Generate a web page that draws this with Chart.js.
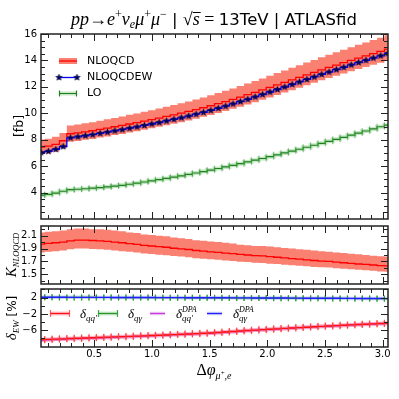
<!DOCTYPE html>
<html>
<head>
<meta charset="utf-8">
<script src="https://cdn.jsdelivr.net/npm/chart.js@4.4.0/dist/chart.umd.min.js"></script>
<style>
  html, body { margin: 0; padding: 0; background: #fff; }
  #wrap { position: relative; width: 399px; height: 399px; }
  #wrap canvas { position: absolute; left: 0; top: 0; }
</style>
</head>
<body>
<div id="wrap">
  <canvas id="top" width="399" height="399"></canvas>
  <canvas id="mid" width="399" height="399"></canvas>
  <canvas id="bot" width="399" height="399"></canvas>
</div>
<script>
// bin centres in delta phi
const phi = [0.039,0.103,0.167,0.231,0.295,0.359,0.423,0.487,0.551,0.615,0.679,0.743,0.807,0.871,0.935,0.999,1.063,1.127,1.191,1.255,1.319,1.383,1.447,1.511,1.575,1.639,1.703,1.767,1.831,1.895,1.959,2.023,2.087,2.151,2.215,2.279,2.343,2.407,2.471,2.535,2.599,2.663,2.727,2.791,2.855,2.919,2.983,3.047];
const halfBin = 0.032;

// cross sections [fb]
const nloqcd = [7.45,7.52,7.65,7.92,8.45,8.52,8.60,8.68,8.78,8.88,8.98,9.08,9.19,9.30,9.41,9.52,9.64,9.76,9.88,10.01,10.14,10.28,10.42,10.57,10.73,10.89,11.06,11.23,11.41,11.59,11.77,11.96,12.15,12.34,12.53,12.72,12.91,13.10,13.29,13.47,13.65,13.83,14.01,14.18,14.35,14.52,14.69,14.86];
const nloqcdHi = [8.01,8.08,8.22,8.51,9.08,9.16,9.24,9.33,9.44,9.54,9.65,9.76,9.88,9.99,10.11,10.23,10.36,10.49,10.62,10.76,10.90,11.05,11.20,11.36,11.53,11.70,11.88,12.06,12.26,12.45,12.64,12.84,13.04,13.24,13.44,13.64,13.84,14.04,14.24,14.43,14.62,14.81,15.00,15.18,15.36,15.54,15.72,15.90];
const nloqcdLo = [6.91,6.98,7.10,7.35,7.85,7.91,7.99,8.06,8.16,8.25,8.35,8.44,8.55,8.65,8.76,8.86,8.98,9.09,9.21,9.33,9.46,9.59,9.73,9.87,10.02,10.17,10.34,10.50,10.67,10.84,11.02,11.20,11.38,11.57,11.75,11.94,12.12,12.31,12.50,12.67,12.84,13.02,13.19,13.35,13.51,13.67,13.83,13.98];
const nloqcdew = [7.03,7.12,7.27,7.48,8.14,8.22,8.30,8.38,8.48,8.57,8.67,8.76,8.87,8.97,9.08,9.19,9.30,9.42,9.54,9.66,9.79,9.93,10.07,10.22,10.38,10.54,10.71,10.88,11.06,11.24,11.42,11.61,11.80,11.99,12.18,12.37,12.56,12.75,12.94,13.12,13.30,13.48,13.66,13.84,14.01,14.18,14.35,14.53];
const lo = [3.80,3.86,3.96,4.10,4.22,4.25,4.29,4.33,4.38,4.43,4.49,4.55,4.63,4.71,4.80,4.89,4.98,5.07,5.17,5.27,5.37,5.48,5.59,5.70,5.82,5.94,6.06,6.19,6.32,6.45,6.58,6.72,6.86,7.00,7.14,7.28,7.43,7.58,7.73,7.88,8.03,8.18,8.34,8.50,8.66,8.82,8.98,9.10];

// K factor NLOQCD/LO
const kfac = [1.97,1.98,1.99,2.00,2.02,2.03,2.03,2.025,2.02,2.01,2.00,1.99,1.975,1.965,1.95,1.94,1.93,1.92,1.905,1.895,1.885,1.87,1.86,1.85,1.84,1.83,1.82,1.81,1.80,1.79,1.785,1.775,1.765,1.755,1.745,1.735,1.725,1.715,1.705,1.70,1.69,1.68,1.67,1.66,1.655,1.645,1.635,1.63];
const kHi = [2.15,2.16,2.17,2.18,2.20,2.21,2.21,2.20,2.20,2.19,2.18,2.17,2.15,2.14,2.12,2.11,2.10,2.09,2.07,2.06,2.05,2.03,2.02,2.01,2.00,1.99,1.98,1.96,1.95,1.94,1.94,1.93,1.92,1.91,1.90,1.89,1.88,1.87,1.86,1.85,1.84,1.83,1.82,1.81,1.80,1.79,1.78,1.775];
const kLo = [1.84,1.85,1.86,1.87,1.89,1.90,1.90,1.895,1.89,1.88,1.87,1.86,1.85,1.84,1.825,1.815,1.805,1.795,1.785,1.775,1.765,1.75,1.74,1.735,1.725,1.715,1.705,1.695,1.69,1.68,1.675,1.665,1.66,1.65,1.64,1.635,1.625,1.615,1.61,1.605,1.595,1.585,1.58,1.57,1.565,1.555,1.545,1.54];

// EW corrections [%]
const dQQ = [-8.30,-8.24,-8.17,-8.10,-8.03,-7.96,-7.89,-7.82,-7.76,-7.69,-7.63,-7.56,-7.50,-7.43,-7.37,-7.30,-7.22,-7.15,-7.07,-6.99,-6.91,-6.83,-6.75,-6.66,-6.54,-6.42,-6.30,-6.19,-6.07,-5.96,-5.85,-5.76,-5.66,-5.55,-5.45,-5.35,-5.25,-5.15,-5.05,-4.96,-4.87,-4.78,-4.69,-4.60,-4.52,-4.44,-4.36,-4.28];
const dQA = [2.05,2.05,2.05,2.04,2.04,2.04,2.03,2.03,2.02,2.02,2.01,2.01,2.00,2.00,1.99,1.99,1.98,1.97,1.97,1.96,1.95,1.95,1.94,1.93,1.93,1.92,1.91,1.90,1.90,1.89,1.88,1.87,1.86,1.86,1.85,1.84,1.83,1.82,1.81,1.80,1.80,1.79,1.78,1.77,1.76,1.75,1.74,1.73];
const dQQdpa = [-8.42,-8.35,-8.28,-8.21,-8.14,-8.07,-8.00,-7.93,-7.86,-7.79,-7.72,-7.65,-7.58,-7.51,-7.44,-7.37,-7.29,-7.21,-7.13,-7.05,-6.97,-6.89,-6.80,-6.71,-6.60,-6.48,-6.36,-6.24,-6.12,-6.01,-5.90,-5.80,-5.70,-5.59,-5.49,-5.39,-5.29,-5.19,-5.09,-5.00,-4.91,-4.82,-4.73,-4.64,-4.56,-4.48,-4.40,-4.32];
const dQAdpa = [2.08,2.08,2.07,2.07,2.06,2.06,2.05,2.05,2.04,2.04,2.03,2.03,2.02,2.02,2.01,2.01,2.00,1.99,1.99,1.98,1.97,1.97,1.96,1.95,1.95,1.94,1.93,1.92,1.92,1.91,1.90,1.89,1.88,1.88,1.87,1.86,1.85,1.84,1.83,1.82,1.82,1.81,1.80,1.79,1.78,1.77,1.76,1.75];

// ticks
const xTicks = [0.5, 1.0, 1.5, 2.0, 2.5, 3.0];
const topTicks = [4, 6, 8, 10, 12, 14, 16];
const kTicks = [1.5, 1.7, 1.9, 2.1];
const ewTicks = [-6, -2, 2];

const X_MIN = 0.039, X_MAX = 3.046;

const xMinor = [];
for (let v = 0.1; v < 3.05; v += 0.1) xMinor.push(+v.toFixed(1));
const topMinor = [];
for (let v = 2; v <= 16; v += 0.5) if (!topTicks.includes(v)) topMinor.push(v);
const kMinor = [1.4, 1.6, 1.8, 2.0, 2.2];
const ewMinor = [-10, -8, -4, 0, 4];

const pts = ys => phi.map((x, i) => ({ x, y: ys[i] }));
const caps = ys => phi.flatMap((x, i) => [{ x: x - halfBin, y: ys[i] }, { x: x + halfBin, y: ys[i] }]);

const SANS = s => `${s}px 'DejaVu Sans'`;
const MI = s => `italic ${s}px 'Liberation Serif'`;
const MR = s => `${s}px 'Liberation Serif'`;

function drawRich(ctx, x, y, runs, align) {
  let cx = 0, lastX = 0;
  const placed = runs.map(r => {
    ctx.font = r.f;
    const w = ctx.measureText(r.t).width;
    const px = r.stack ? lastX : cx;
    if (!r.stack) lastX = px;
    cx = Math.max(cx, px + w);
    return { r, px, w };
  });
  const off = align === 'center' ? -cx / 2 : 0;
  placed.forEach(({ r, px, w }) => {
    ctx.font = r.f;
    ctx.fillText(r.t, x + off + px, y + (r.dy || 0));
    if (r.bar) ctx.fillRect(x + off + px, y - r.bar, w + 1, 1);
  });
}

function drawVertical(ctx, x, y, runs) {
  ctx.save();
  ctx.translate(x, y);
  ctx.rotate(-Math.PI / 2);
  drawRich(ctx, 0, 0, runs, 'center');
  ctx.restore();
}

function makeStar(r) {
  const c = document.createElement('canvas');
  const s = Math.ceil(r * 2 + 2);
  c.width = c.height = s;
  const g = c.getContext('2d');
  g.beginPath();
  for (let i = 0; i < 10; i++) {
    const a = -Math.PI / 2 + i * Math.PI / 5;
    const rr = i % 2 ? r * 0.45 : r;
    g.lineTo(s / 2 + rr * Math.cos(a), s / 2 + rr * Math.sin(a));
  }
  g.closePath();
  g.fillStyle = '#00006a';
  g.fill();
  g.strokeStyle = '#000030';
  g.lineWidth = 0.6;
  g.stroke();
  return c;
}
const starImg = makeStar(3.3);

// inward ticks on all four sides + box
function frame(yMajor, yMinor) {
  return {
    id: 'frame',
    afterDatasetsDraw(chart) {
      const { ctx, chartArea: a, scales: { x, y } } = chart;
      ctx.save();
      ctx.strokeStyle = '#222';
      ctx.lineWidth = 1;
      ctx.beginPath();
      const seg = (x1, y1, x2, y2) => { ctx.moveTo(x1, y1); ctx.lineTo(x2, y2); };
      xMinor.forEach(v => {
        const len = xTicks.includes(v) ? 7 : 4;
        const px = Math.round(x.getPixelForValue(v)) + 0.5;
        if (px < a.left || px > a.right) return;
        seg(px, a.bottom, px, a.bottom - len);
        seg(px, a.top, px, a.top + len);
      });
      const yt = (v, len) => {
        const py = Math.round(y.getPixelForValue(v)) + 0.5;
        if (py < a.top || py > a.bottom) return;
        seg(a.left, py, a.left + len, py);
        seg(a.right, py, a.right - len, py);
      };
      yMajor.forEach(v => yt(v, 7));
      yMinor.forEach(v => yt(v, 4));
      ctx.stroke();
      ctx.lineWidth = 1.5;
      ctx.strokeRect(a.left, a.top, a.right - a.left, a.bottom - a.top);
      ctx.restore();
    }
  };
}

const step = (ys, color, width, extra) => Object.assign({
  data: pts(ys), borderColor: color, borderWidth: width, pointRadius: 0,
  stepped: 'middle', fill: false
}, extra || {});
const capSet = (ys, color, r) => ({
  data: caps(ys), showLine: false, pointStyle: 'line', pointRotation: 90,
  pointRadius: r, pointBorderColor: color, pointBorderWidth: 1.2, borderColor: color
});

const hiddenX = { type: 'linear', min: X_MIN, max: X_MAX, display: false };
const yAxis = (min, max, ticks, fmt) => ({
  type: 'linear', min, max,
  grid: { display: false, drawTicks: false },
  border: { display: false },
  ticks: { font: { family: 'DejaVu Sans', size: 10 }, color: '#000', padding: 4, callback: fmt },
  afterBuildTicks: s => { s.ticks = ticks.map(v => ({ value: v })); },
  afterFit: s => { s.width = 41; }
});
const base = {
  responsive: false, animation: false, devicePixelRatio: 1, events: [],
  plugins: { legend: { display: false }, tooltip: { enabled: false } }
};

// ---------- top panel ----------
new Chart(document.getElementById('top'), {
  type: 'line',
  data: {
    datasets: [
      { data: pts(nloqcdew), showLine: false, pointStyle: starImg, pointRadius: 4 },
      step(nloqcdew, '#0000ff', 1.3),
      step(nloqcd, '#ff0000', 1.3),
      capSet(lo, 'rgba(60,160,60,0.55)', 3),
      step(lo, 'rgb(30,128,30)', 1.2),
      step(lo, 'rgba(60,170,60,0.3)', 4),
      step(nloqcdHi, 'rgba(0,0,0,0)', 0, { fill: '+1', backgroundColor: 'rgb(250,128,114)' }),
      step(nloqcdLo, 'rgba(0,0,0,0)', 0)
    ]
  },
  options: Object.assign({}, base, {
    layout: { padding: { left: 0, right: 11, top: 34, bottom: 180 } },
    scales: { x: hiddenX, y: yAxis(2, 16, topTicks, v => String(v)) }
  }),
  plugins: [frame(topTicks, topMinor), {
    id: 'topText',
    afterDraw(chart) {
      const ctx = chart.ctx;
      ctx.save();
      ctx.fillStyle = '#000';
      ctx.textBaseline = 'alphabetic';
      drawRich(ctx, 214, 25, [
        { t: 'pp', f: MI(18) }, { t: '→', f: MR(18) }, { t: 'e', f: MI(18) },
        { t: '+', f: MR(12), dy: -7 }, { t: 'ν', f: MI(18) }, { t: 'e', f: MI(12), dy: 3 },
        { t: 'μ', f: MI(18) }, { t: '+', f: MR(12), dy: -7 }, { t: 'μ', f: MI(18) },
        { t: '−', f: MR(12), dy: -7 }, { t: ' | ', f: SANS(16.5) }, { t: '√', f: MR(18) },
        { t: 's', f: MI(18), bar: 13 }, { t: ' = ', f: MR(18) }, { t: '13TeV | ATLASfid', f: SANS(16.5) }
      ], 'center');
      drawVertical(ctx, 23, 126, [{ t: '[fb]', f: SANS(12.5) }]);
      // legend
      ctx.fillStyle = 'rgb(250,128,114)';
      ctx.fillRect(59, 58, 18, 6);
      ctx.strokeStyle = '#ff0000'; ctx.lineWidth = 1.3;
      ctx.beginPath(); ctx.moveTo(59, 61); ctx.lineTo(77, 61); ctx.stroke();
      ctx.strokeStyle = '#0000ff';
      ctx.beginPath(); ctx.moveTo(59, 77.5); ctx.lineTo(77, 77.5); ctx.stroke();
      ctx.drawImage(starImg, 59 - starImg.width / 2, 77.5 - starImg.height / 2);
      ctx.drawImage(starImg, 77 - starImg.width / 2, 77.5 - starImg.height / 2);
      ctx.strokeStyle = 'rgba(60,170,60,0.3)'; ctx.lineWidth = 4;
      ctx.beginPath(); ctx.moveTo(59, 93.5); ctx.lineTo(77, 93.5); ctx.stroke();
      ctx.strokeStyle = 'rgb(30,128,30)'; ctx.lineWidth = 1.2;
      ctx.beginPath(); ctx.moveTo(59, 93.5); ctx.lineTo(77, 93.5);
      ctx.moveTo(59.5, 90.5); ctx.lineTo(59.5, 96.5); ctx.moveTo(76.5, 90.5); ctx.lineTo(76.5, 96.5); ctx.stroke();
      ctx.fillStyle = '#000';
      ctx.font = SANS(11);
      ctx.textBaseline = 'middle';
      ctx.fillText('NLOQCD', 87, 61);
      ctx.fillText('NLOQCDEW', 87, 77.5);
      ctx.fillText('LO', 87, 93.5);
      ctx.restore();
    }
  }]
});

// ---------- K factor panel ----------
new Chart(document.getElementById('mid'), {
  type: 'line',
  data: {
    datasets: [
      step(kfac, '#ff0000', 1.3),
      step(kHi, 'rgba(0,0,0,0)', 0, { fill: '+1', backgroundColor: 'rgb(250,128,114)' }),
      step(kLo, 'rgba(0,0,0,0)', 0)
    ]
  },
  options: Object.assign({}, base, {
    layout: { padding: { left: 0, right: 11, top: 226, bottom: 115 } },
    scales: { x: hiddenX, y: yAxis(1.35, 2.25, kTicks, v => Number(v).toFixed(1)) }
  }),
  plugins: [frame(kTicks, kMinor), {
    id: 'midText',
    afterDraw(chart) {
      const ctx = chart.ctx;
      ctx.save();
      ctx.fillStyle = '#000';
      drawVertical(ctx, 16, 255, [{ t: 'K', f: MI(15) }, { t: 'NLOQCD', f: MI(8.5), dy: 3 }]);
      ctx.restore();
    }
  }]
});

// ---------- EW correction panel ----------
new Chart(document.getElementById('bot'), {
  type: 'line',
  data: {
    datasets: [
      step(dQAdpa, '#2020ff', 1.4),
      capSet(dQA, 'rgba(40,160,40,0.85)', 3),
      step(dQA, 'rgb(40,150,40)', 1.2),
      capSet(dQQ, 'rgba(255,60,60,0.75)', 3.5),
      step(dQQ, '#ff1010', 1.4),
      step(dQQ, 'rgba(255,80,110,0.35)', 4),
      step(dQQdpa, 'rgb(200,60,220)', 1.2),
      step(dQQdpa, 'rgba(200,60,220,0.3)', 3.5),
      step(dQAdpa, 'rgba(80,80,255,0.3)', 3.5)
    ]
  },
  options: Object.assign({}, base, {
    layout: { padding: { left: 0, right: 11, top: 289, bottom: 0 } },
    scales: {
      x: {
        type: 'linear', min: X_MIN, max: X_MAX,
        grid: { display: false, drawTicks: false },
        border: { display: false },
        ticks: {
          font: { family: 'DejaVu Sans', size: 10 }, color: '#000', padding: 1,
          maxRotation: 0, autoSkip: false, callback: v => Number(v).toFixed(1)
        },
        afterBuildTicks: s => { s.ticks = xTicks.map(v => ({ value: v })); },
        afterFit: s => { s.height = 52; }
      },
      y: yAxis(-10.1, 4.1, ewTicks, v => (v < 0 ? '−' + Math.abs(v) : String(v)))
    }
  }),
  plugins: [frame(ewTicks, ewMinor), {
    id: 'botText',
    afterDraw(chart) {
      const ctx = chart.ctx;
      ctx.save();
      ctx.fillStyle = '#000';
      ctx.textBaseline = 'alphabetic';
      drawVertical(ctx, 16, 318, [
        { t: 'δ', f: MI(15) }, { t: 'EW', f: MI(9), dy: 3 }, { t: ' [%]', f: SANS(12) }
      ]);
      drawRich(ctx, 214, 375, [
        { t: 'Δ', f: MR(16) }, { t: 'φ', f: MI(16) }, { t: 'μ', f: MI(10), dy: 4 },
        { t: '+', f: MR(7), dy: 0 }, { t: ',e', f: MI(10), dy: 4 }
      ], 'center');
      // legend
      const ly = 313.5;
      const errSample = (x1, x2, shade, line, cap) => {
        ctx.strokeStyle = shade; ctx.lineWidth = 4;
        ctx.beginPath(); ctx.moveTo(x1, ly); ctx.lineTo(x2, ly); ctx.stroke();
        ctx.strokeStyle = line; ctx.lineWidth = 1.3;
        ctx.beginPath(); ctx.moveTo(x1, ly); ctx.lineTo(x2, ly); ctx.stroke();
        ctx.strokeStyle = cap; ctx.lineWidth = 1.2;
        ctx.beginPath();
        ctx.moveTo(x1 + 0.5, ly - 3.5); ctx.lineTo(x1 + 0.5, ly + 3.5);
        ctx.moveTo(x2 - 0.5, ly - 3.5); ctx.lineTo(x2 - 0.5, ly + 3.5);
        ctx.stroke();
      };
      errSample(50, 70, 'rgba(255,80,110,0.35)', '#ff1010', 'rgba(255,60,60,0.8)');
      errSample(98, 118, 'rgba(60,170,60,0.25)', 'rgb(40,150,40)', 'rgba(40,160,40,0.9)');
      const lineSample = (x1, x2, shade, line) => {
        ctx.strokeStyle = shade; ctx.lineWidth = 3.5;
        ctx.beginPath(); ctx.moveTo(x1, ly); ctx.lineTo(x2, ly); ctx.stroke();
        ctx.strokeStyle = line; ctx.lineWidth = 1.2;
        ctx.beginPath(); ctx.moveTo(x1, ly); ctx.lineTo(x2, ly); ctx.stroke();
      };
      lineSample(150, 165, 'rgba(200,60,220,0.3)', 'rgb(200,60,220)');
      lineSample(207, 222, 'rgba(80,80,255,0.3)', '#2020ff');
      ctx.fillStyle = '#000';
      const tb = ly + 4.5;
      drawRich(ctx, 80, tb, [{ t: 'δ', f: MI(13) }, { t: 'qq′', f: MI(9), dy: 3 }]);
      drawRich(ctx, 128, tb, [{ t: 'δ', f: MI(13) }, { t: 'qγ', f: MI(9), dy: 3 }]);
      drawRich(ctx, 176, tb, [{ t: 'δ', f: MI(13) }, { t: 'DPA', f: MI(8), dy: -6 }, { t: 'qq′', f: MI(9), dy: 3, stack: true }]);
      drawRich(ctx, 233, tb, [{ t: 'δ', f: MI(13) }, { t: 'DPA', f: MI(8), dy: -6 }, { t: 'qγ', f: MI(9), dy: 3, stack: true }]);
      ctx.restore();
    }
  }]
});
</script>
</body>
</html>
